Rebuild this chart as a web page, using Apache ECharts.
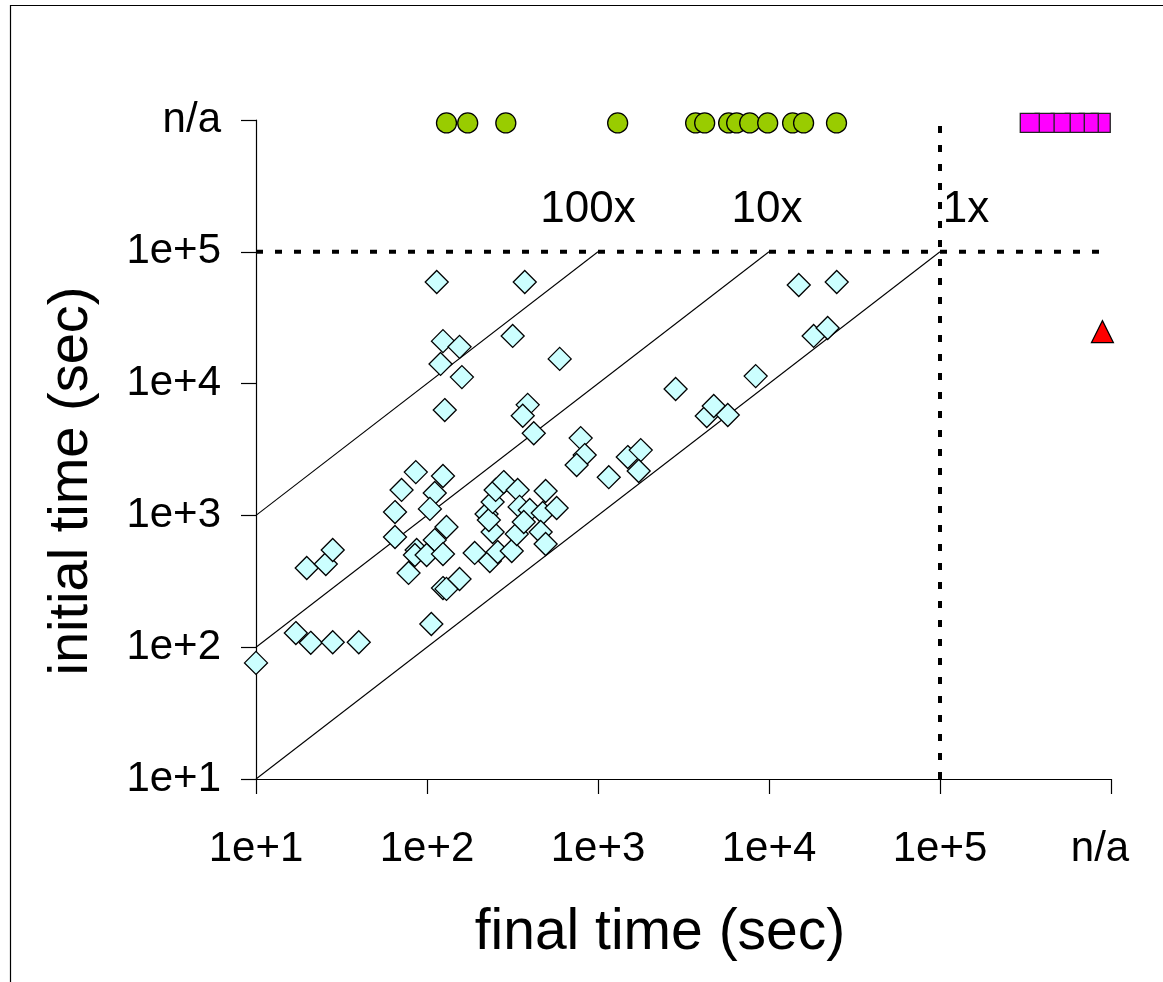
<!DOCTYPE html>
<html><head><meta charset="utf-8">
<script src="https://cdn.jsdelivr.net/npm/echarts@6/dist/echarts.min.js"></script>
<style>html,body{margin:0;padding:0;background:#fff}#c{width:1163px;height:982px}</style>
</head><body><div id="c"></div>
<script>
// Tick labels (decades 1e1..1e5, then the "n/a" slot one decade further)
const xTickLabels = ['1e+1','1e+2','1e+3','1e+4','1e+5','n/a'];
const yTickLabels = ['1e+1','1e+2','1e+3','1e+4','1e+5','n/a'];

// Solved runs: final time vs initial time (sec)
const diamondFinal = [114,373,124,155,317,597,120,160,127,388,363,421,792,836,750,1156,1493,1778,1730,2844,4325,4753,5741,8357,18240,22030,14930,24890,
  86,124,71,111,104,65,65,130,111,87,85,99.5,124,78,124,130,155,106,190,233,259,313,242,335,223,230,242,252,281,339,348,399,368,475,573,494,462,494,
  19.8,25.6,28.1,17.1,20.9,28.1,39.9,10];
const diamondInitial = [59000,59000,21000,19000,23000,15400,14100,11200,6300,6900,5700,4200,3860,2870,2410,1950,2770,3130,2170,9100,5680,6760,5780,11400,23000,26400,56000,59000,
  2130,1990,1560,1480,1120,1060,686,817,650,546,501,501,509,366,281,277,329,150,519,451,527,537,748,722,1025,923,1265,1560,1790,1560,1160,1100,891,1043,1138,1531,748,607,
  399,428,546,128,108,109,109,76];

// Initial time n/a (plotted in the n/a row)
const circleFinal = [130,173,289,1303,3724,4205,5808,6471,7711,9825,13740,15930,24820];
const circleInitial = [950000,950000,950000,950000,950000,950000,950000,950000,950000,950000,950000,950000,950000];

// Both n/a (plotted in the n/a corner)
const squareFinal = [871000,741000,614000,508000,409000,335000];
const squareInitial = [950000,950000,950000,950000,950000,950000];

// Final time n/a
const triangleFinal = [891000];
const triangleInitial = [24800];

// Speed-up reference lines
const speedups = [100, 10, 1];
const speedupLabels = ['100x', '10x', '1x'];
const timeLimit = 1e5;
const axisMin = 10, naEdge = 950000;

const zip = (a, b) => a.map((v, i) => [v, b[i]]);
const FONT = '"Liberation Sans", Arial, sans-serif';
const labelOf = (arr, lastRich) => (v) => {
  const i = Math.round(Math.log10(v)) - 1;
  if (arr[i] === undefined) return '';
  return (lastRich && i === arr.length - 1) ? '{na|' + arr[i] + '}' : arr[i];
};

const chart = echarts.init(document.getElementById('c'), null, {renderer: 'canvas'});

const diagSeries = speedups.map(f => ({
  type: 'line', data: [[axisMin, axisMin * f], [timeLimit / f, timeLimit]],
  symbol: 'none', silent: true, z: 1,
  lineStyle: {color: '#000', width: 1.1}
}));

const limitStyle = {color: '#000', width: 4, type: [7, 12], cap: 'butt'};

const option = {
  animation: false,
  backgroundColor: '#fff',
  grid: {left: 256, right: 52, top: 120, bottom: 203},
  xAxis: {
    type: 'log', logBase: 10, min: 10, max: 1e6,
    axisLine: {lineStyle: {color: '#000', width: 1.2}},
    axisTick: {show: true, inside: false, length: 15, lineStyle: {color: '#000', width: 1.2}},
    minorTick: {show: false},
    splitLine: {show: false},
    axisLabel: {formatter: labelOf(xTickLabels, true), fontSize: 42, fontFamily: FONT, color: '#000', margin: 49,
      rich: {na: {fontSize: 42, fontFamily: FONT, color: '#000', padding: [0, 22, 0, 0]}}}
  },
  yAxis: {
    type: 'log', logBase: 10, min: 10, max: 1e6,
    axisLine: {lineStyle: {color: '#000', width: 1.2}},
    axisTick: {show: true, inside: false, length: 15, lineStyle: {color: '#000', width: 1.2}},
    minorTick: {show: false},
    splitLine: {show: false},
    axisLabel: {formatter: labelOf(yTickLabels, false), fontSize: 42, fontFamily: FONT, color: '#000', margin: 35}
  },
  series: [
    ...diagSeries,
    {type: 'line', data: [[axisMin, timeLimit], [naEdge, timeLimit]], symbol: 'none', silent: true, z: 1, lineStyle: limitStyle},
    {type: 'line', data: [[timeLimit, axisMin], [timeLimit, naEdge * 0.96]], symbol: 'none', silent: true, z: 1, lineStyle: limitStyle},
    {type: 'scatter', data: zip(diamondFinal, diamondInitial), symbol: 'diamond', symbolSize: 23, z: 3,
      itemStyle: {color: '#CCFFFF', borderColor: '#000', borderWidth: 1.3, opacity: 1}},
    {type: 'scatter', data: zip(circleFinal, circleInitial), symbol: 'circle', symbolSize: 20, z: 3,
      itemStyle: {color: '#99CC00', borderColor: '#000', borderWidth: 1.3, opacity: 1}},
    {type: 'scatter', data: zip(squareFinal, squareInitial), symbol: 'rect', symbolSize: 19, z: 3,
      itemStyle: {color: '#FF00FF', borderColor: '#222', borderWidth: 1.3, opacity: 1}},
    {type: 'scatter', data: zip(triangleFinal, triangleInitial), symbol: 'triangle', symbolSize: 22, z: 3,
      itemStyle: {color: '#FF0000', borderColor: '#000', borderWidth: 1.2, opacity: 1}}
  ],
  graphic: [
    {type: 'rect', shape: {x: 10.5, y: 5.5, width: 1300, height: 1100}, style: {fill: 'none', stroke: '#000', lineWidth: 1.2}, silent: true},
    {type: 'text', x: 588, y: 210, style: {text: speedupLabels[0], font: '44px ' + FONT, fill: '#000', align: 'center', verticalAlign: 'middle'}},
    {type: 'text', x: 767, y: 210, style: {text: speedupLabels[1], font: '44px ' + FONT, fill: '#000', align: 'center', verticalAlign: 'middle'}},
    {type: 'text', x: 966, y: 210, style: {text: speedupLabels[2], font: '44px ' + FONT, fill: '#000', align: 'center', verticalAlign: 'middle'}},
    {type: 'text', x: 660, y: 933, style: {text: 'final time (sec)', font: '57px ' + FONT, fill: '#000', align: 'center', verticalAlign: 'middle'}},
    {type: 'text', x: 72, y: 481, rotation: Math.PI / 2, style: {text: 'initial time (sec)', font: '56px ' + FONT, fill: '#000', align: 'center', verticalAlign: 'middle'}}
  ]
};
chart.setOption(option);
</script>
</body></html>
